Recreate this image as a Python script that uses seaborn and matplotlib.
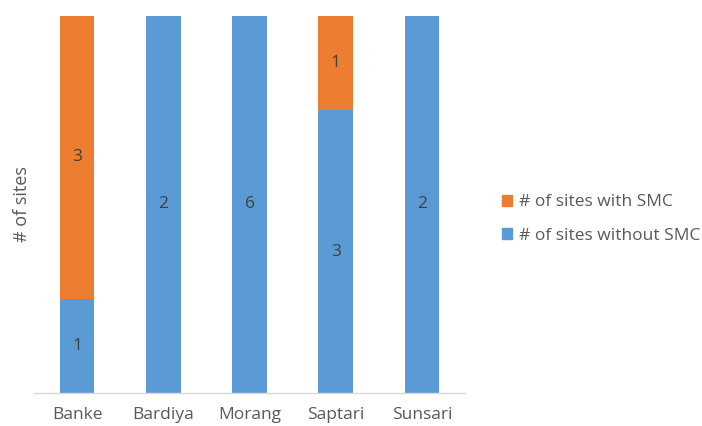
import numpy as np
import pandas as pd
import seaborn as sns
import matplotlib.pyplot as plt
from matplotlib.patches import Patch

districts = ["Banke", "Bardiya", "Morang", "Saptari", "Sunsari"]
with_smc = [3, 0, 0, 1, 0]
without_smc = [1, 2, 6, 3, 2]

ORANGE = "#ED7D31"
BLUE = "#5B9BD5"
GREY = "#595959"

sns.set_theme(style="white")
plt.rcParams["font.family"] = ["Open Sans", "DejaVu Sans"]

df = pd.DataFrame({"district": districts, "with": with_smc, "without": without_smc})
df["total"] = df["with"] + df["without"]
df["share_without"] = df["without"] / df["total"]
df["share_total"] = 1.0

fig = plt.figure(figsize=(7.02, 4.26), dpi=100)
ax = fig.add_axes([34 / 702, 1 - 393 / 426, 431 / 702, 377 / 426])

# full-height orange bars, blue share drawn on top
sns.barplot(data=df, x="district", y="share_total", color=ORANGE, width=0.4,
            saturation=1, linewidth=0, ax=ax)
sns.barplot(data=df, x="district", y="share_without", color=BLUE, width=0.4,
            saturation=1, linewidth=0, ax=ax)

for i, row in df.iterrows():
    if row["without"] > 0:
        ax.text(i, row["share_without"] / 2, str(row["without"]), ha="center",
                va="center", fontsize=12.5, color="#404040")
    if row["with"] > 0:
        ax.text(i, row["share_without"] + (1 - row["share_without"]) / 2,
                str(row["with"]), ha="center", va="center", fontsize=12.5,
                color="#404040")

ax.set_xlim(-0.5, 4.5)
ax.set_ylim(0, 1)
ax.set_yticks([])
ax.set_xlabel("")
ax.set_ylabel("# of sites", fontsize=13, color=GREY, labelpad=0)
ax.yaxis.set_label_coords(-3 / 431, 0.5)
ax.tick_params(axis="x", length=0, pad=10, labelsize=12.5, labelcolor=GREY)
for s in ["top", "right", "left"]:
    ax.spines[s].set_visible(False)
ax.spines["bottom"].set_color("#D9D9D9")
ax.spines["bottom"].set_linewidth(1)

handles = [Patch(color=ORANGE, label="# of sites with SMC"),
           Patch(color=BLUE, label="# of sites without SMC")]
fig.legend(handles=handles, loc="center left", bbox_to_anchor=(486 / 702, 1 - 219 / 426),
           frameon=False, fontsize=12.5, labelcolor=GREY, handlelength=0.6,
           handleheight=0.6, handletextpad=0.4, labelspacing=1.0)

fig.savefig("out.png", dpi=100)
